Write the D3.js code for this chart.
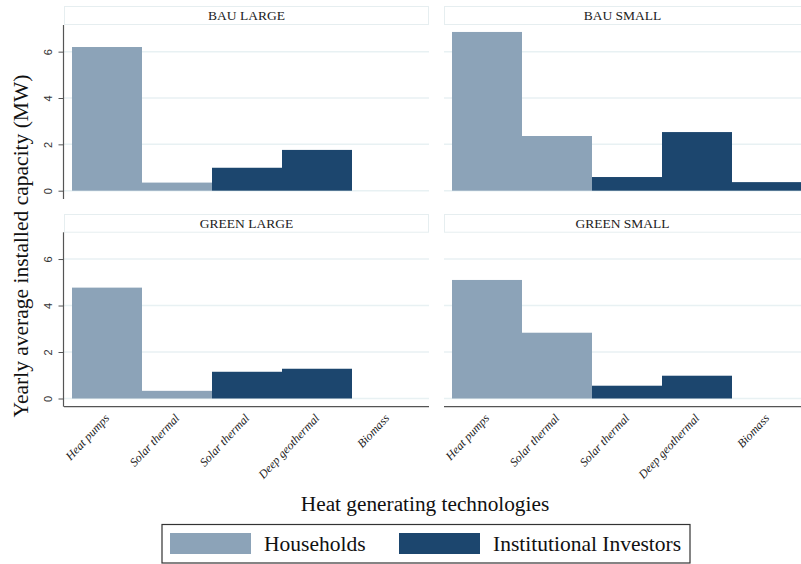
<!DOCTYPE html>
<html><head><meta charset="utf-8">
<script src="https://cdn.jsdelivr.net/npm/d3@7"></script>
<style>body{margin:0;background:#fff}svg{display:block}</style>
</head><body>
<svg id="c" width="801" height="564"></svg>
<script>
const panels = ["BAU LARGE", "BAU SMALL", "GREEN LARGE", "GREEN SMALL"];
const categories = ["Heat pumps", "Solar thermal", "Solar thermal ", "Deep geothermal", "Biomass"];
const householdCats = ["Heat pumps", "Solar thermal"];
const investorCats = ["Solar thermal ", "Deep geothermal", "Biomass"];
const householdValues = [[6.2, 0.35], [6.85, 2.36], [4.77, 0.33], [5.1, 2.83]];
const investorValues = [[0.99, 1.76, 0], [0.59, 2.53, 0.37], [1.15, 1.28, 0], [0.55, 0.98, 0]];
const yTicks = [0, 2, 4, 6];
const seriesNames = ["Households", "Institutional Investors"];
const colors = ["#8ca3b8", "#1c466e"];

const svg = d3.select("#c");
const serif = "'Liberation Serif','Times New Roman',serif";
const sans = "'Liberation Sans',Arial,sans-serif";

const cols = [{x0: 64, x1: 429, b0: 72, b1: 422}, {x0: 444, x1: 809, b0: 452, b1: 802}];
const rows = [{tb0: 6, tb1: 24, top: 25, zero: 190.7, bottom: 199, xaxis: false},
              {tb0: 214, tb1: 231.7, top: 232.3, zero: 398.5, bottom: 406.7, xaxis: true}];

panels.forEach((name, i) => {
  const c = cols[i % 2], r = rows[Math.floor(i / 2)];
  const g = svg.append("g");
  const x = d3.scaleBand().domain(categories).range([c.b0, c.b1]).padding(0);
  const y = d3.scaleLinear().domain([0, 7.15]).range([r.zero, r.top]);

  // title box
  g.append("rect").attr("x", c.x0 + 0.5).attr("y", r.tb0 + 0.5)
    .attr("width", c.x1 - c.x0 - 1).attr("height", r.tb1 - r.tb0)
    .attr("fill", "#fff").attr("stroke", "#e6eef0").attr("stroke-width", 1);
  g.append("text").attr("x", (c.x0 + Math.min(c.x1, 801)) / 2).attr("y", r.tb0 + 13.5)
    .attr("text-anchor", "middle").attr("font-family", serif).attr("font-size", 13.5).attr("fill", "#222")
    .text(name);

  // gridlines
  g.selectAll(".grid").data(yTicks).enter().append("line")
    .attr("x1", c.x0).attr("x2", c.x1).attr("y1", d => y(d)).attr("y2", d => y(d))
    .attr("stroke", "#e8f1f3").attr("stroke-width", 1.5);

  // bars
  const hv = householdValues[i], iv = investorValues[i];
  g.selectAll(".h").data(householdCats.map((k, j) => ({k, v: hv[j]}))).enter().append("rect")
    .attr("x", d => x(d.k)).attr("width", x.bandwidth())
    .attr("y", d => y(d.v)).attr("height", d => y(0) - y(d.v)).attr("fill", colors[0]);
  g.selectAll(".n").data(investorCats.map((k, j) => ({k, v: iv[j]}))).enter().append("rect")
    .attr("x", d => x(d.k)).attr("width", x.bandwidth())
    .attr("y", d => y(d.v)).attr("height", d => y(0) - y(d.v)).attr("fill", colors[1]);

  // y axis on left panels
  if (i % 2 === 0) {
    g.append("line").attr("x1", 63.5).attr("x2", 63.5).attr("y1", r.top).attr("y2", r.bottom)
      .attr("stroke", "#555").attr("stroke-width", 1.2);
    const ax = d3.axisLeft(y).tickValues(yTicks).tickSize(5).tickPadding(0).tickFormat(d3.format("d"));
    const ag = g.append("g").attr("transform", "translate(63.5,0)").call(ax);
    ag.select(".domain").remove();
    ag.selectAll(".tick line").attr("stroke", "#555");
    ag.selectAll(".tick text").attr("font-family", sans).attr("font-size", 11).attr("fill", "#333")
      .attr("transform", "rotate(-90)").attr("x", 0).attr("y", -12).attr("dy", "0")
      .attr("text-anchor", "middle");
  }
  // x axis on bottom panels
  if (r.xaxis) {
    const ax = d3.axisBottom(x).tickSize(0).tickPadding(0);
    const ag = g.append("g").attr("transform", `translate(0,${r.bottom})`).call(ax);
    ag.select(".domain").attr("d", `M${c.x0},0H${c.x1}`).attr("stroke", "#555").attr("stroke-width", 1.2);
    ag.selectAll(".tick text").attr("font-family", serif).attr("font-style", "italic")
      .attr("font-size", 12).attr("fill", "#222").attr("text-anchor", "end")
      .attr("y", 0).attr("dy", 0)
      .attr("transform", "translate(3,12) rotate(-47)")
      .text(d => d.trim());
  }
});

// y axis title
svg.append("text").attr("transform", "translate(28,246) rotate(-90)")
  .attr("text-anchor", "middle").attr("font-family", serif).attr("font-size", 21.5).attr("fill", "#111")
  .text("Yearly average installed capacity (MW)");

// x axis title
svg.append("text").attr("x", 425).attr("y", 511).attr("text-anchor", "middle")
  .attr("font-family", serif).attr("font-size", 21.3).attr("fill", "#111")
  .text("Heat generating technologies");

// legend
const lg = svg.append("g");
lg.append("rect").attr("x", 162).attr("y", 524.5).attr("width", 528).attr("height", 38.5)
  .attr("fill", "#fff").attr("stroke", "#333").attr("stroke-width", 1.2);
const lx = [170, 399];
seriesNames.forEach((s, k) => {
  lg.append("rect").attr("x", lx[k]).attr("y", 533).attr("width", 81).attr("height", 21).attr("fill", colors[k]);
  lg.append("text").attr("x", lx[k] + 94).attr("y", 551).attr("font-family", serif).attr("font-size", 21.5)
    .attr("fill", "#111").text(s);
});
</script>
</body></html>
